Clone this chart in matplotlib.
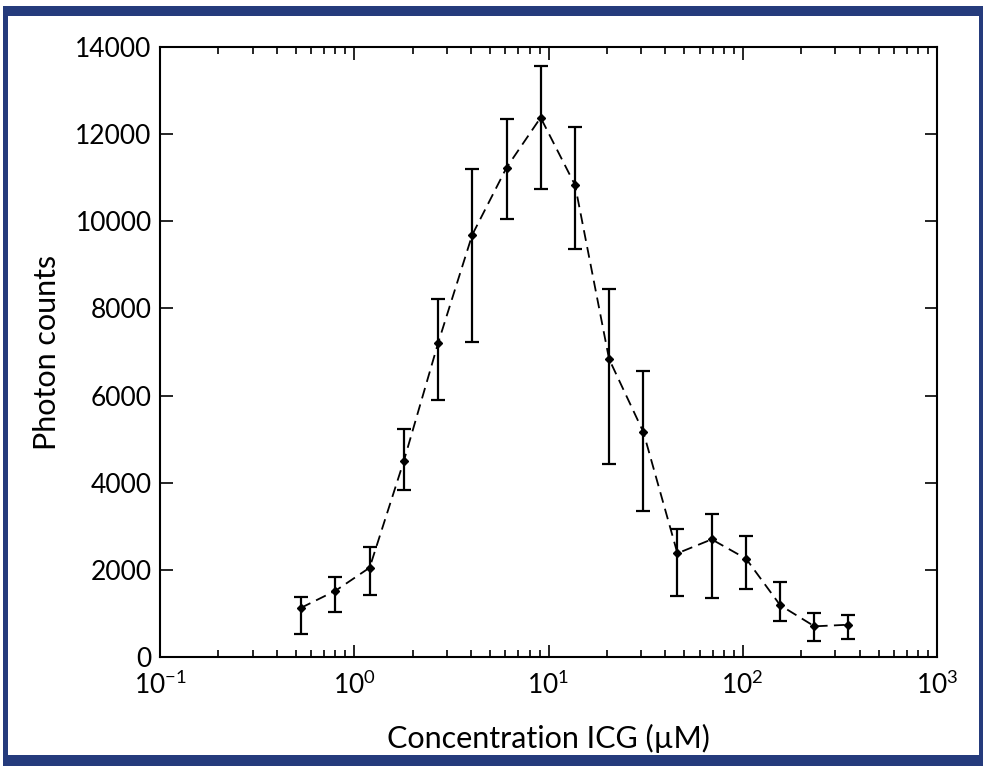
import matplotlib
matplotlib.use("Agg")
import matplotlib.pyplot as plt
from matplotlib.patches import Rectangle
from matplotlib.ticker import LogLocator, FixedLocator, NullFormatter
import numpy as np

concentration = [0.53, 0.80, 1.20, 1.80, 2.70, 4.05, 6.08, 9.11, 13.7, 20.5,
                 30.8, 46.1, 69.2, 104, 156, 234, 350]
photon_counts = [1125, 1520, 2050, 4500, 7200, 9690, 11230, 12380, 10830, 6840,
                 5160, 2380, 2700, 2256, 1186, 704, 741]
err_upper = [1377, 1836, 2531, 5233, 8216, 11193, 12340, 13563, 12170, 8446,
             6564, 2931, 3275, 2777, 1714, 1017, 971]
err_lower = [528, 1026, 1430, 3833, 5898, 7236, 10052, 10748, 9357, 4429,
             3351, 1393, 1354, 1561, 833, 367, 420]
y_ticks = [0, 2000, 4000, 6000, 8000, 10000, 12000, 14000]
x_ticks = [0.1, 1, 10, 100, 1000]
x_tick_labels = [r'$\mathregular{10^{-1}}$', r'$\mathregular{10^{0}}$', r'$\mathregular{10^{1}}$',
                 r'$\mathregular{10^{2}}$', r'$\mathregular{10^{3}}$']

plt.rcParams['font.family'] = ['Lato', 'DejaVu Sans']

W, H = 984, 767
fig = plt.figure(figsize=(W / 100, H / 100), dpi=100)

# blue frame
fig.patches.append(Rectangle((3 / W, 1 - 766 / H), 980 / W, 760 / H, transform=fig.transFigure,
                             facecolor='#253b7c', edgecolor='none', zorder=-10))
fig.patches.append(Rectangle((8 / W, 1 - 755 / H), 971 / W, 739 / H, transform=fig.transFigure,
                             facecolor='white', edgecolor='none', zorder=-9))

left, right, top, bottom = 160, 937, 47, 657
ax = fig.add_axes([left / W, 1 - bottom / H, (right - left) / W, (bottom - top) / H])
ax.set_facecolor('none')
ax.set_zorder(5)

y = np.array(photon_counts)
yerr = np.vstack([y - np.array(err_lower), np.array(err_upper) - y])
ax.errorbar(concentration, photon_counts, yerr=yerr, fmt='D', color='black',
            markersize=4, ecolor='black', elinewidth=1.6, capsize=5, capthick=1.6, zorder=3)
ax.plot(concentration, photon_counts, linestyle=(0, (6, 3.5)), color='black', linewidth=1.3, zorder=2)

ax.set_xscale('log')
ax.set_xlim(0.1, 1000)
ax.set_ylim(0, 14000)
ax.xaxis.set_major_locator(FixedLocator(x_ticks))
ax.set_xticklabels(x_tick_labels)
ax.xaxis.set_minor_locator(LogLocator(base=10, subs=np.arange(2, 10)))
ax.xaxis.set_minor_formatter(NullFormatter())
ax.set_yticks(y_ticks)
ax.set_yticklabels([str(v) for v in y_ticks])

ax.tick_params(which='both', direction='in', top=True, right=True, labelsize=19, width=1.2)
ax.tick_params(axis='x', pad=10)
ax.tick_params(axis='y', pad=6)
ax.tick_params(which='major', length=9)
ax.tick_params(which='minor', length=5)
for s in ax.spines.values():
    s.set_linewidth(1.5)

ax.set_xlabel('Concentration ICG (µM)', fontsize=22, labelpad=18)
ax.set_ylabel('Photon counts', fontsize=22, labelpad=10)

fig.savefig('out.png', dpi=100)
